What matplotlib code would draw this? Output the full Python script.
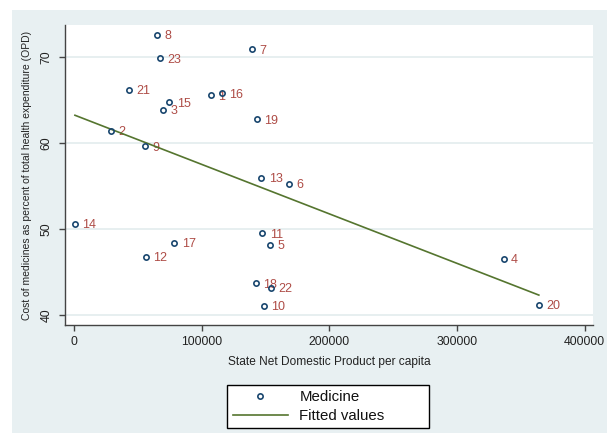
import matplotlib
matplotlib.use("Agg")
import matplotlib.pyplot as plt
from matplotlib.patches import Rectangle
import numpy as np

plt.rcParams['font.family'] = ['Liberation Sans', 'DejaVu Sans']

# state id, SNDP per capita, medicine share of OPD spending
state_ids = list(range(1, 24))
sndp = [107000, 28400, 69700, 336500, 153200, 168600, 139200, 65200,
        55100, 148800, 147500, 56100, 146700, 500, 74600, 115900,
        78500, 142500, 143000, 364100, 43100, 154500, 66800]
medicine = [65.6, 61.48, 63.92, 46.55, 48.22, 55.31, 70.93, 72.6,
            59.65, 41.13, 49.53, 46.78, 55.97, 50.66, 64.77, 65.8,
            48.41, 43.72, 62.79, 41.24, 66.24, 43.17, 69.88]
xticks = [0, 100000, 200000, 300000, 400000]
yticks = [40, 50, 60, 70]

W, H = 607, 436
fig = plt.figure(figsize=(W / 100, H / 100), dpi=100)
fig.patch.set_facecolor('white')
fig.patches.append(Rectangle((12 / W, 3 / H), 1 - 12 / W, 1 - 13 / H,
                             transform=fig.transFigure, facecolor='#E8F0F2',
                             edgecolor='none', zorder=-10))

ax = fig.add_axes([65 / W, (H - 325) / H, (592.7 - 65) / W, 300 / H])
ax.set_facecolor('white')

navy = '#1A476F'
green = '#55752F'
maroon = '#AE4C46'
ink = '#222222'

ax.plot(sndp, medicine, linestyle='none', marker='o', markersize=3.8,
        markerfacecolor='none', markeredgecolor=navy, markeredgewidth=1.2,
        label='Medicine', zorder=3)
for sid, x, y in zip(state_ids, sndp, medicine):
    ax.annotate(str(sid), (x, y), xytext=(5.3, -1.0), textcoords='offset points',
                va='center', ha='left', fontsize=9, color=maroon, zorder=2)

# linear fit over the observed range
b, a = np.polyfit(sndp, medicine, 1)
xs = np.array([min(sndp), max(sndp)])
ax.plot(xs, a + b * xs, color=green, linewidth=1.2, label='Fitted values', zorder=2)

ax.set_xlim(-7290, 406300)
ax.set_ylim(38.87, 73.76)
ax.set_xticks(xticks)
ax.set_xticklabels([str(t) for t in xticks])
ax.set_yticks(yticks)
ax.set_yticklabels([str(t) for t in yticks], rotation=90, va='center')
ax.grid(axis='y', color='#E3ECEE', linewidth=1.2, zorder=0)
ax.set_axisbelow(True)

for s in ['top', 'right']:
    ax.spines[s].set_visible(False)
for s in ['left', 'bottom']:
    ax.spines[s].set_color('#444444')
    ax.spines[s].set_linewidth(1.0)
ax.tick_params(axis='both', direction='out', length=4, width=1.0, color='#444444',
               labelsize=8.8, labelcolor=ink)
ax.tick_params(axis='x', pad=4)
ax.tick_params(axis='y', pad=5)

ax.set_xlabel('State Net Domestic Product per capita', fontsize=8.6,
              color=ink, labelpad=6)
ax.set_ylabel('Cost of medicines as percent of total health expenditure (OPD)',
              fontsize=7.5, color=ink, labelpad=6)

leg = ax.legend(loc='lower left', mode='expand',
                bbox_to_anchor=(227.3 / W, (H - 428) / H, 202 / W, 47.3 / H),
                bbox_transform=fig.transFigure, fontsize=10.8, frameon=True,
                fancybox=False, edgecolor='black', facecolor='white', framealpha=1,
                handlelength=3.7, handletextpad=0.75, labelspacing=0.3,
                borderpad=0.35, borderaxespad=0)
leg.get_frame().set_linewidth(1.0)
for t in leg.get_texts():
    t.set_color('#111111')

fig.savefig('out.png', dpi=100, facecolor=fig.get_facecolor())
